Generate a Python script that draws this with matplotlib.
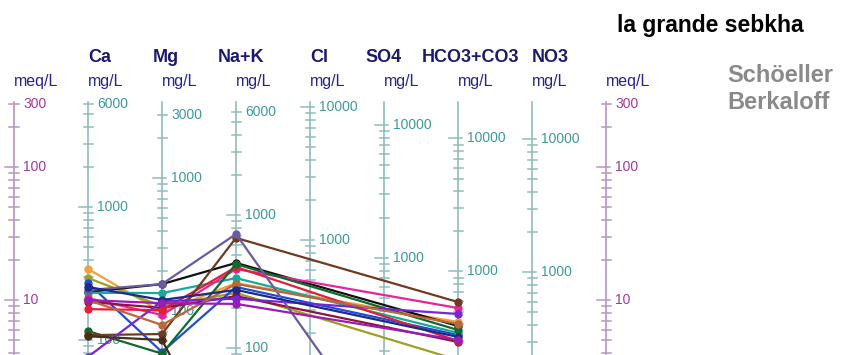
import matplotlib.pyplot as plt

plt.rcParams['font.family'] = ['Liberation Sans', 'DejaVu Sans']

# ions on the diagram (column order) and their equivalent weights (g/eq)
ions = ['Ca', 'Mg', 'Na+K', 'Cl', 'SO4', 'HCO3+CO3', 'NO3']
eq_weight = [20.04, 12.15, 23.0, 35.45, 48.03, 61.02, 62.0]
top_labels = [6000, 3000, 6000, 10000, 10000, 10000, 10000]
header_left_px = [88, 153, 218, 310, 365, 422, 532]

# samples, concentrations in mg/L
sample_colors = ['#f0a040', '#9ea020', '#1f4ed0', '#111111', '#1aa89a', '#e8239c',
                 '#8c1440', '#e3203a', '#106a2c', '#6e3a20', '#7a24d8', '#6b5b9e',
                 '#b8683a', '#4a2c18', '#1c2a8c', '#9a1cb4']
ca_mg = [343, 293, 269, 230, 227, 207, 194, 171, 117, 109, 75, 238, 200, 107, 251, 200]
mg_mg = [98.8, 109, 49.3, 160, 137, 93.7, 106, 102, 48, 67.4, 119, 160, 78.9, 60.8, 121.5, 115]
nak_mg = [308, 260, 288, 437, 336, 393, 246, 407, 428, 674, 235, 720, 304, 10, 274, 215]
hco3_mg = [417, 216, 333, 389, 345, 531, 295, 300, 363, 589, 479, 8.4, 403, 8, 322, 305]

W, H = 843, 355
px = 1 / 74.0  # one pixel in column units

fig = plt.figure(figsize=(W / 100, H / 100), dpi=100)
ax = fig.add_axes([0, 0, 1, 1])
ax.set_yscale('log')
ymin = 10 ** (78 / 133)
ax.set_xlim(-14 * px, (W - 14) * px)
ax.set_ylim(ymin, 10 ** (433 / 133))
ax.axis('off')

meq_top = 300
meq_line = '#b993c4'
meq_text = '#9b3d8f'
mg_line = '#8fbcbc'
mg_text = '#3d9a98'
navy = '#1c1a6c'


def draw_axis(x, w, labels, line_c, text_c):
    ax.plot([x, x], [0.5, meq_top * 1.03], color=line_c, lw=1.2, zorder=1)
    for d in range(-1, 5):
        for k in range(1, 10):
            m = k * 10 ** d / w
            if m > meq_top * 1.001 or m < 1:
                continue
            if k == 1:
                x0, x1 = x - 9 * px, x + 4 * px
            else:
                x0, x1 = x - 4.5 * px, x + 4.5 * px
            ax.plot([x0, x1], [m, m], color=line_c, lw=1.1, zorder=1)
    for v in labels:
        if v / w < ymin * 1.08:
            continue
        ax.text(x + 9 * px, v / w, str(v), color=text_c, fontsize=10,
                va='center', ha='left', zorder=2)


# meq/L scales on both sides
draw_axis(0, 1.0, [300, 100, 10], meq_line, meq_text)
draw_axis(8, 1.0, [300, 100, 10], meq_line, meq_text)
for i, w in enumerate(eq_weight):
    draw_axis(i + 1, w, [top_labels[i], 1000, 100], mg_line, mg_text)

# sample lines: Ca, Mg, Na+K, HCO3
line_cols = [1, 2, 3, 6]
for i, c in enumerate(sample_colors):
    ys = [ca_mg[i] / eq_weight[0], mg_mg[i] / eq_weight[1],
          nak_mg[i] / eq_weight[2], hco3_mg[i] / eq_weight[5]]
    ax.plot(line_cols, ys, '-o', color=c, lw=1.6, ms=5, zorder=3)

# headers and units
for name, xl in zip(ions, header_left_px):
    fig.text(xl / W, 1 - 62 / H, name, color=navy, fontsize=13,
             fontweight='bold', va='baseline', ha='left')
for col in range(9):
    unit = 'meq/L' if col in (0, 8) else 'mg/L'
    fig.text((14 + 74 * col) / W, 1 - 86 / H, unit, color='#24248a',
             fontsize=11.5, va='baseline', ha='left')

fig.text(617 / W, 1 - 32 / H, 'la grande sebkha', color='black', fontsize=16.5,
         fontweight='bold', va='baseline', ha='left')
fig.text(727 / W, 1 - 82 / H, 'Schöeller', color='#8a8a8a', fontsize=17,
         fontweight='bold', va='baseline', ha='left')
fig.text(727 / W, 1 - 109 / H, 'Berkaloff', color='#8a8a8a', fontsize=17,
         fontweight='bold', va='baseline', ha='left')

fig.savefig('out.png', dpi=100)
